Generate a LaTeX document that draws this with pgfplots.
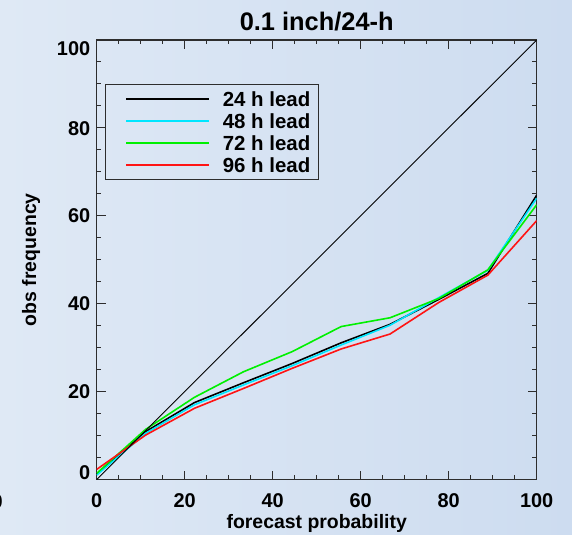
\documentclass[border=0pt]{standalone}
\usepackage{fontspec}
\setmainfont{Liberation Sans}
\usepackage{pgfplots}
\pgfplotsset{compat=1.18}
\usepackage{pgfplotstable}
\definecolor{bgl}{RGB}{223,233,245}
\definecolor{bgr}{RGB}{205,220,240}
\definecolor{axc}{RGB}{45,45,45}
\definecolor{mycyan}{RGB}{0,230,255}
\definecolor{mygreen}{RGB}{0,240,0}
\definecolor{myred}{RGB}{255,20,20}

\pgfplotstableread{
x      b    c    g    r
0      1.2  1.0  1.4  2.3
11.11 10.9 10.5 11.4 10.1
22.22 17.5 17.0 18.7 16.2
33.33 22.0 21.5 24.5 20.7
44.44 26.4 25.9 29.1 25.3
55.56 31.1 30.6 34.8 29.7
66.67 35.3 35.1 36.8 33.1
77.78 41.0 41.4 41.2 40.3
88.89 46.9 47.6 47.7 46.5
100   64.7 64.0 62.5 58.9
}\data

\begin{document}
\begin{tikzpicture}
\path[use as bounding box, left color=bgl, right color=bgr] (-96.7bp,-55.5bp) rectangle (475.3bp,479.5bp);
\node[anchor=north east, inner sep=0pt, font=\bfseries\fontsize{20}{24}\selectfont] at (-93.7bp,-14.5bp) {0};
\begin{axis}[
  at={(0,0)}, anchor=south west,
  scale only axis, width=440bp, height=439.5bp,
  xmin=0, xmax=100, ymin=0, ymax=100,
  xtick={0,20,...,100}, ytick={0,20,...,100},
  xticklabels={0,20,40,60,80,100},
  yticklabels={\raisebox{7bp}{0},20,40,60,80,\raisebox{-8bp}{100}},
  minor x tick num=3, minor y tick num=3,
  tick align=inside, xtick pos=both, ytick pos=both,
  major tick length=9bp, minor tick length=4.5bp,
  axis line style={axc, line width=1.2bp},
  every tick/.style={axc, line width=1bp},
  tick label style={font=\bfseries\fontsize{20}{24}\selectfont},
  xticklabel style={yshift=-11bp},
  yticklabel style={anchor=base east, yshift=-7.2bp, xshift=-3bp},
  title={0.1 inch/24-h},
  title style={at={(axis description cs:0.5,1)}, anchor=base, yshift=4bp, font=\bfseries\fontsize{25.5}{30}\selectfont},
  xlabel={forecast probability},
  xlabel style={at={(axis description cs:0.5,0)}, anchor=base, yshift=-48.5bp, font=\bfseries\fontsize{19.5}{23}\selectfont},
  ylabel={obs frequency},
  ylabel style={at={(axis description cs:-0.1493,0.5)}, anchor=center, font=\bfseries\fontsize{19.5}{23}\selectfont},
  legend style={at={(0.019,0.90)}, anchor=north west, draw=axc, line width=1bp, fill=none,
    font=\bfseries\fontsize{20.5}{24}\selectfont, inner xsep=8.7bp, inner ysep=7bp, row sep=7.4bp,
    nodes={inner sep=0pt, text height=14.6bp, text depth=0pt, anchor=base west}},
  legend image code/.code={\draw[#1] (0bp,7bp) (11bp,7bp) -- (94bp,7bp) (107bp,7bp);},
]
\addplot[black, line width=1.6bp] table[x=x, y=b] {\data};
\addlegendentry{24 h lead}
\addplot[mycyan, line width=1.6bp] table[x=x, y=c] {\data};
\addlegendentry{48 h lead}
\addplot[mygreen, line width=1.6bp] table[x=x, y=g] {\data};
\addlegendentry{72 h lead}
\addplot[myred, line width=1.6bp] table[x=x, y=r] {\data};
\addlegendentry{96 h lead}
\addplot[black, line width=0.9bp, forget plot] coordinates {(0,0) (100,100)};
\end{axis}
\end{tikzpicture}
\end{document}
